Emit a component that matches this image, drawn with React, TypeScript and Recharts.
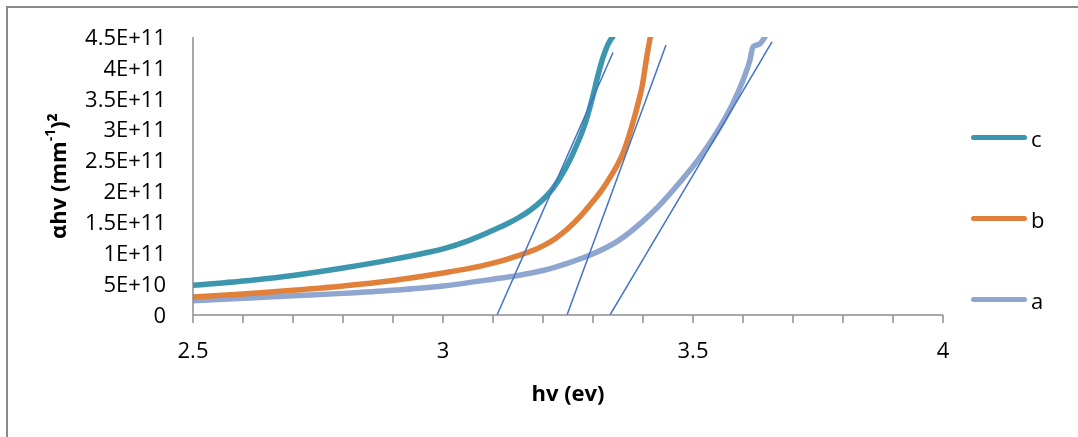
import { LineChart, Line, XAxis, YAxis, Legend } from "recharts"

// hv (eV) / (αhv)² readings for each sample
const cX = [2.5, 2.6, 2.7, 2.8, 2.9, 2.95, 3.0, 3.05, 3.1, 3.15, 3.175, 3.2, 3.22, 3.24, 3.255, 3.27, 3.28, 3.29, 3.3, 3.31, 3.32, 3.33, 3.345]
const cY = [0.48e11, 0.55e11, 0.64e11, 0.76e11, 0.9e11, 0.98e11, 1.07e11, 1.2e11, 1.37e11, 1.57e11, 1.7e11, 1.87e11, 2.05e11, 2.3e11, 2.53e11, 2.8e11, 3.0e11, 3.25e11, 3.55e11, 3.88e11, 4.17e11, 4.38e11, 4.56e11]

const bX = [2.5, 2.6, 2.7, 2.8, 2.9, 3.0, 3.05, 3.1, 3.15, 3.2, 3.225, 3.25, 3.275, 3.3, 3.32, 3.335, 3.35, 3.36, 3.37, 3.38, 3.39, 3.398, 3.408, 3.416]
const bY = [0.29e11, 0.34e11, 0.4e11, 0.47e11, 0.56e11, 0.68e11, 0.75e11, 0.84e11, 0.96e11, 1.12e11, 1.24e11, 1.4e11, 1.6e11, 1.84e11, 2.05e11, 2.24e11, 2.45e11, 2.62e11, 2.85e11, 3.12e11, 3.42e11, 3.69e11, 4.2e11, 4.56e11]

const aX = [2.5, 2.6, 2.7, 2.8, 2.9, 3.0, 3.1, 3.15, 3.2, 3.25, 3.3, 3.35, 3.4, 3.43, 3.475, 3.51, 3.55, 3.58, 3.6, 3.614, 3.62, 3.635, 3.648]
const aY = [0.23e11, 0.27e11, 0.31e11, 0.35e11, 0.4e11, 0.47e11, 0.58e11, 0.64e11, 0.72e11, 0.84e11, 0.99e11, 1.2e11, 1.52e11, 1.75e11, 2.16e11, 2.51e11, 2.99e11, 3.43e11, 3.8e11, 4.13e11, 4.34e11, 4.4e11, 4.56e11]

// tangent (Tauc) fits, two end points each
const tcX = [3.108, 3.34]
const tcY = [0, 4.25e11]
const tbX = [3.248, 3.446]
const tbY = [0, 4.37e11]
const taX = [3.334, 3.658]
const taY = [0, 4.42e11]

const xTicks = [2.5, 2.6, 2.7, 2.8, 2.9, 3.0, 3.1, 3.2, 3.3, 3.4, 3.5, 3.6, 3.7, 3.8, 3.9, 4.0]
const yTicks = [0, 0.5e11, 1e11, 1.5e11, 2e11, 2.5e11, 3e11, 3.5e11, 4e11, 4.5e11]

const legendNames = ["c", "b", "a"]
const colors: Record<string, string> = { c: "#3C96AD", b: "#E0803A", a: "#8EA6D0" }
const fitColor = "#4472C4"
const font = "'Open Sans', sans-serif"

const zip = (xs: number[], ys: number[]) => xs.map((x, i) => ({ x, y: ys[i] }))

const fmtY = (v: number) => {
  if (v === 0) return "0"
  const e = Math.floor(Math.log10(v) + 1e-9)
  const m = Math.round((v / 10 ** e) * 10) / 10
  return `${m}E+${e}`
}

const fmtX = (v: number) => (Math.abs(v * 2 - Math.round(v * 2)) < 1e-6 ? String(Math.round(v * 10) / 10) : "")

function LegendBox() {
  return (
    <div style={{ fontFamily: font, fontSize: 22 }}>
      {legendNames.map((n) => (
        <div key={n} style={{ height: 81, display: "flex", alignItems: "center" }}>
          <div style={{ width: 56, height: 5, borderRadius: 3, background: colors[n], marginRight: 4 }} />
          <span style={{ lineHeight: 1 }}>{n}</span>
        </div>
      ))}
    </div>
  )
}

export default function App() {
  return (
    <>
      <div
        style={{
          position: "fixed",
          left: 6,
          top: 6,
          width: 1072,
          height: 431,
          borderLeft: "2px solid #8a8a8a",
          borderTop: "2px solid #8a8a8a",
          boxSizing: "border-box",
        }}
      />
      <div style={{ position: "absolute", left: 0, top: 0 }}>
        <LineChart width={1078} height={437} margin={{ top: 37, right: 35, bottom: 62, left: 13 }}>
          <XAxis
            type="number"
            dataKey="x"
            domain={[2.5, 4]}
            ticks={xTicks}
            tickFormatter={fmtX}
            interval={0}
            height={60}
            tickSize={8}
            tickMargin={19}
            stroke="#8c8c8c"
            strokeWidth={1.5}
            tick={{ fill: "#000", fontSize: 22, fontFamily: font }}
            label={{
              content: ({ viewBox }: any) => (
                <text
                  x={viewBox.x + viewBox.width / 2}
                  y={viewBox.y + 77}
                  textAnchor="middle"
                  dominantBaseline="central"
                  fontFamily={font}
                  fontWeight="bold"
                  fontSize={22}
                >
                  hv (ev)
                </text>
              ),
            }}
          />
          <YAxis
            type="number"
            domain={[0, 4.5e11]}
            ticks={yTicks}
            tickFormatter={fmtY}
            interval={0}
            allowDataOverflow
            width={180}
            tickLine={false}
            tickSize={8}
            tickMargin={19}
            stroke="#8c8c8c"
            strokeWidth={1.5}
            tick={{ fill: "#000", fontSize: 22, fontFamily: font }}
            label={{
              content: ({ viewBox }: any) => {
                const cx = viewBox.x + 44
                const cy = viewBox.y + viewBox.height / 2
                return (
                  <text
                    x={cx}
                    y={cy}
                    transform={`rotate(-90 ${cx} ${cy})`}
                    textAnchor="middle"
                    dominantBaseline="central"
                    fontFamily={font}
                    fontWeight="bold"
                    fontSize={22}
                  >
                    αhv (mm
                    <tspan dy={-8} fontSize={14}>-1</tspan>
                    <tspan dy={8}>)²</tspan>
                  </text>
                )
              },
            }}
          />
          <Legend
            layout="vertical"
            align="right"
            verticalAlign="top"
            content={() => <LegendBox />}
            wrapperStyle={{ left: 971, top: 97, width: 100 }}
          />
          <Line data={zip(aX, aY)} dataKey="y" name="a" type="monotone" stroke={colors.a} strokeWidth={5.5} dot={false} isAnimationActive={false} legendType="none" />
          <Line data={zip(bX, bY)} dataKey="y" name="b" type="monotone" stroke={colors.b} strokeWidth={5.5} dot={false} isAnimationActive={false} legendType="none" />
          <Line data={zip(cX, cY)} dataKey="y" name="c" type="monotone" stroke={colors.c} strokeWidth={5.5} dot={false} isAnimationActive={false} legendType="none" />
          <Line data={zip(tcX, tcY)} dataKey="y" type="linear" stroke={fitColor} strokeWidth={1.5} dot={false} isAnimationActive={false} legendType="none" />
          <Line data={zip(tbX, tbY)} dataKey="y" type="linear" stroke={fitColor} strokeWidth={1.5} dot={false} isAnimationActive={false} legendType="none" />
          <Line data={zip(taX, taY)} dataKey="y" type="linear" stroke={fitColor} strokeWidth={1.5} dot={false} isAnimationActive={false} legendType="none" />
        </LineChart>
      </div>
    </>
  )
}
